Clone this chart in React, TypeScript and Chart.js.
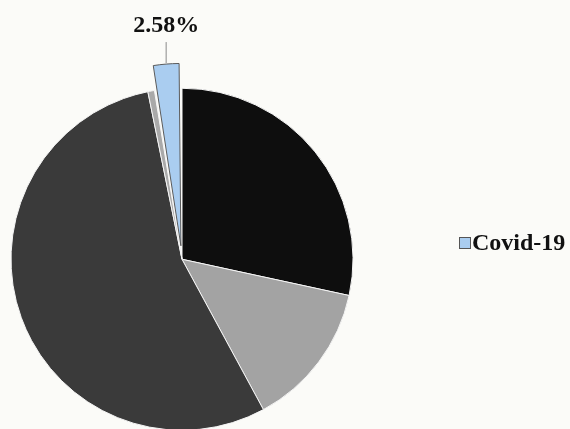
import React, { useEffect, useRef } from "react";
import { Chart, registerables } from "chart.js";

Chart.register(...registerables);

const categories = ["Category A", "Category B", "Category C", "Other", "Covid-19"];
const values = [28.4, 13.7, 54.7, 0.62, 2.58];
const colors = ["#0e0e0e", "#a3a3a3", "#3a3a3a", "#a9a9a9", "#aacdf0"];
const borderColors = ["#f4f4f4", "#f4f4f4", "#f4f4f4", "#f4f4f4", "#5a5a5a"];
const offsets = [0, 0, 0, 0, 54];
const legendShown = ["Covid-19"];
const labelShown = ["Covid-19"];

const FONT = "bold 24px 'Liberation Serif', 'Times New Roman', serif";

const overlayPlugin = {
  id: "overlay",
  afterDatasetsDraw(chart: any) {
    const ctx = chart.ctx;
    const meta = chart.getDatasetMeta(0);
    ctx.save();
    meta.data.forEach((arc: any, i: number) => {
      if (!labelShown.includes(categories[i])) return;
      const mid = (arc.startAngle + arc.endAngle) / 2;
      const o = offsets[i] / 4;
      const fix = 1 - Math.sin(Math.min(Math.PI, arc.circumference || 0));
      const r0 = o + arc.outerRadius + o * fix;
      const x0 = arc.x + Math.cos(mid) * r0;
      const y0 = arc.y + Math.sin(mid) * r0 - 1;
      const y1 = y0 - 21;
      ctx.strokeStyle = "#8a8a8a";
      ctx.lineWidth = 1;
      ctx.beginPath();
      ctx.moveTo(x0, y0);
      ctx.lineTo(x0, y1);
      ctx.stroke();
      ctx.fillStyle = "#111";
      ctx.font = FONT;
      ctx.textAlign = "center";
      ctx.textBaseline = "alphabetic";
      ctx.fillText(values[i].toFixed(2) + "%", x0, y1 - 10);
    });
    let ly = 243;
    const lx = 479;
    categories.forEach((c, i) => {
      if (!legendShown.includes(c)) return;
      ctx.fillStyle = colors[i];
      ctx.fillRect(lx, ly - 6, 12, 12);
      ctx.strokeStyle = "#555";
      ctx.lineWidth = 1;
      ctx.strokeRect(lx + 0.5, ly - 5.5, 11, 11);
      ctx.fillStyle = "#111";
      ctx.font = FONT;
      ctx.textAlign = "left";
      ctx.textBaseline = "middle";
      ctx.fillText(c, lx + 13, ly + 1);
      ly += 26;
    });
    ctx.restore();
  },
};

export default function App() {
  const ref = useRef<HTMLCanvasElement | null>(null);
  useEffect(() => {
    document.body.style.margin = "0";
    document.body.style.overflow = "hidden";
    document.body.style.background = "#fbfbf8";
    const chart = new Chart(ref.current as HTMLCanvasElement, {
      type: "pie",
      data: {
        labels: categories,
        datasets: [
          {
            data: values,
            backgroundColor: colors,
            borderColor: borderColors,
            borderWidth: 1,
            offset: offsets,
          },
        ],
      },
      options: {
        responsive: false,
        animation: false,
        layout: { padding: { left: 3.5, right: 189.5, top: 60.5, bottom: 0 } },
        plugins: {
          legend: { display: false },
          tooltip: { enabled: false },
        },
      },
      plugins: [overlayPlugin],
    });
    return () => chart.destroy();
  }, []);
  return (
    <div style={{ position: "relative", width: 570, height: 429, overflow: "hidden", background: "#fbfbf8" }}>
      <canvas
        ref={ref}
        width={590}
        height={458}
        style={{ position: "absolute", left: -20, top: 0, width: 590, height: 458 }}
      />
    </div>
  );
}
